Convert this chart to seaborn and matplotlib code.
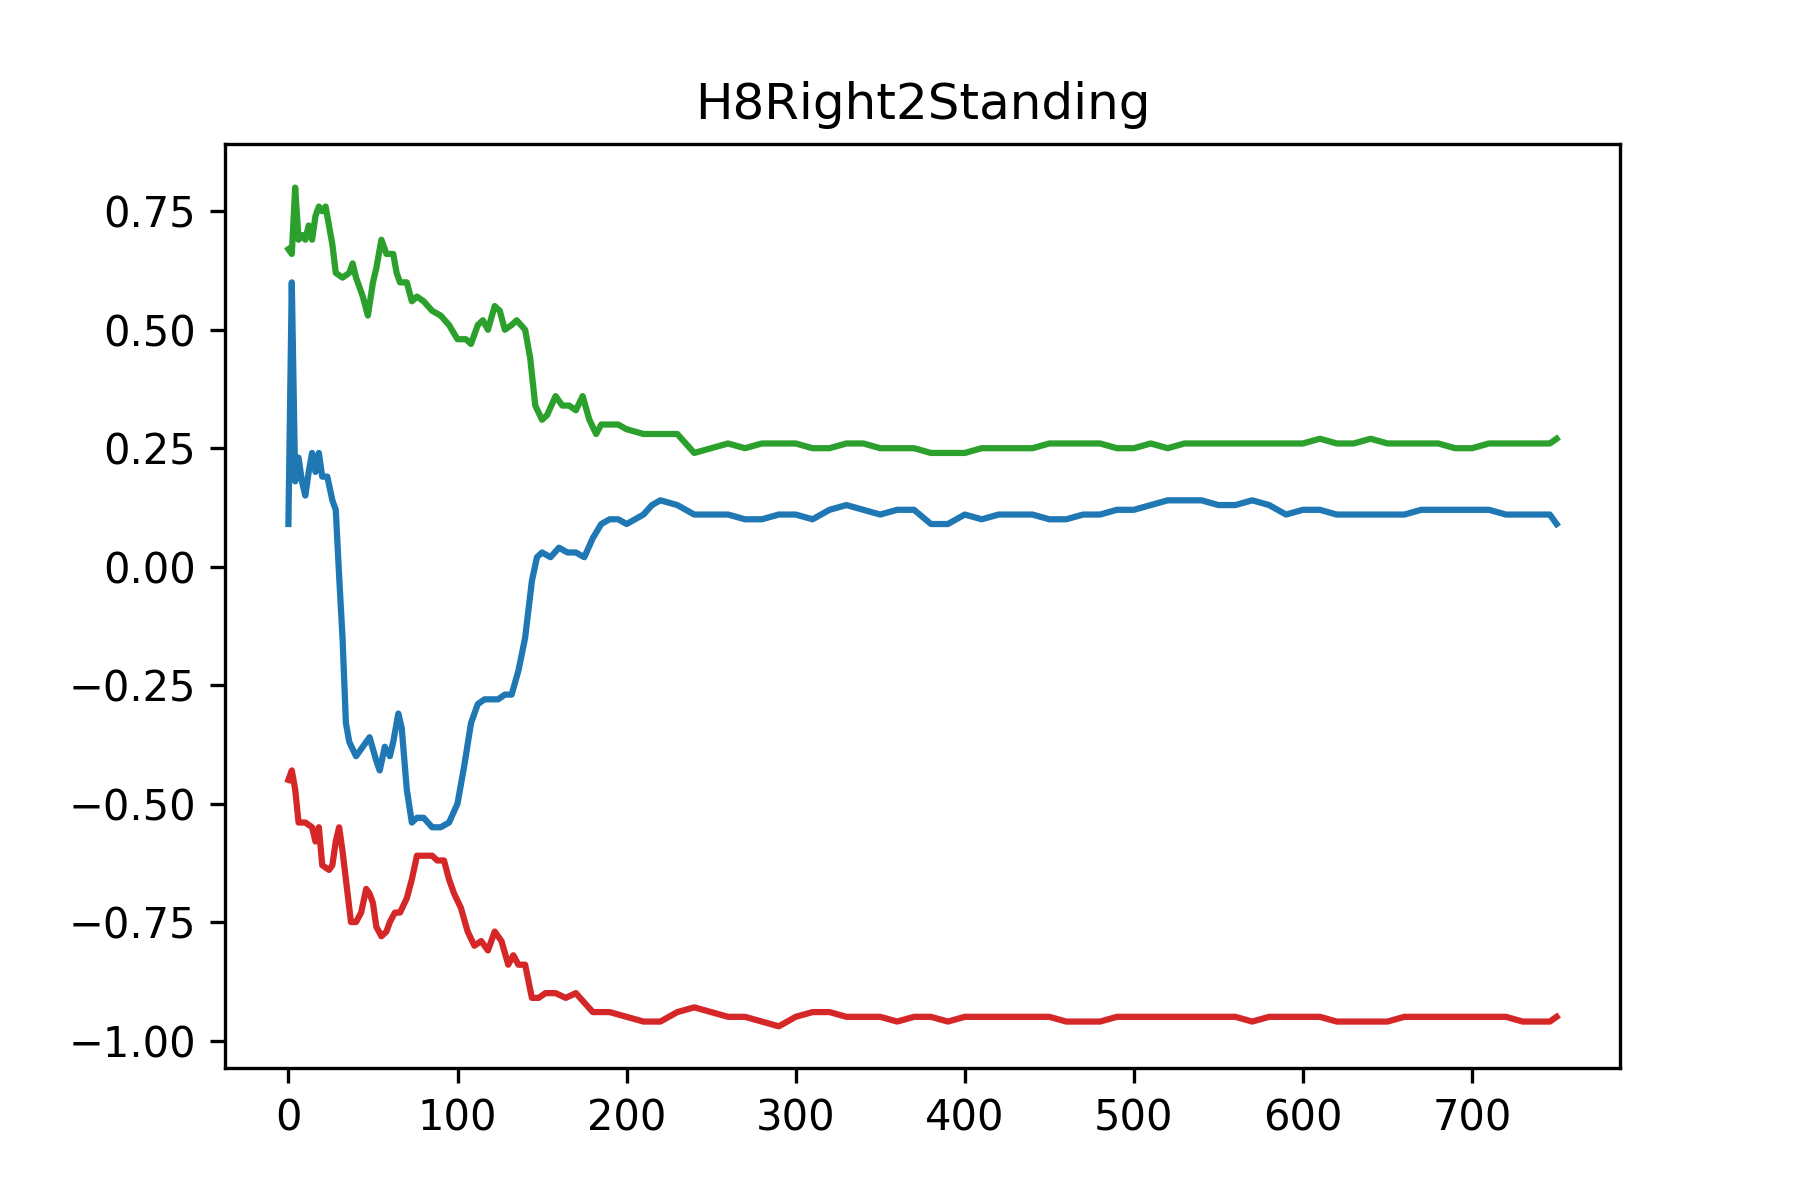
import numpy as np
import pandas as pd
import seaborn as sns
import matplotlib
matplotlib.use("Agg")
import matplotlib.pyplot as plt

# values
blue_x = [0, 2, 4, 6, 8, 10, 12, 14, 16, 18, 20, 23, 26, 28, 30, 32, 34, 36, 40, 44, 48, 52, 54, 57, 60, 62, 65, 67, 70, 73, 76, 80, 85, 90, 95, 100, 104, 108, 112, 116, 120, 124, 128, 132, 136, 140, 144, 147, 150, 155, 160, 165, 170, 175, 180, 185, 190, 195, 200, 210, 215, 220, 230, 240, 250, 260, 270, 280, 290, 300, 310, 320, 330, 340, 350, 360, 370, 380, 390, 400, 410, 420, 430, 440, 450, 460, 470, 480, 490, 500, 510, 520, 530, 540, 550, 560, 570, 580, 590, 600, 610, 620, 630, 640, 650, 660, 670, 680, 690, 700, 710, 720, 730, 740, 746, 750]
blue_y = [0.09, 0.60, 0.18, 0.23, 0.18, 0.15, 0.20, 0.24, 0.20, 0.24, 0.19, 0.19, 0.14, 0.12, -0.02, -0.15, -0.33, -0.37, -0.40, -0.38, -0.36, -0.41, -0.43, -0.38, -0.40, -0.37, -0.31, -0.34, -0.47, -0.54, -0.53, -0.53, -0.55, -0.55, -0.54, -0.50, -0.42, -0.33, -0.29, -0.28, -0.28, -0.28, -0.27, -0.27, -0.22, -0.15, -0.03, 0.02, 0.03, 0.02, 0.04, 0.03, 0.03, 0.02, 0.06, 0.09, 0.10, 0.10, 0.09, 0.11, 0.13, 0.14, 0.13, 0.11, 0.11, 0.11, 0.10, 0.10, 0.11, 0.11, 0.10, 0.12, 0.13, 0.12, 0.11, 0.12, 0.12, 0.09, 0.09, 0.11, 0.10, 0.11, 0.11, 0.11, 0.10, 0.10, 0.11, 0.11, 0.12, 0.12, 0.13, 0.14, 0.14, 0.14, 0.13, 0.13, 0.14, 0.13, 0.11, 0.12, 0.12, 0.11, 0.11, 0.11, 0.11, 0.11, 0.12, 0.12, 0.12, 0.12, 0.12, 0.11, 0.11, 0.11, 0.11, 0.09]

green_x = [0, 2, 4, 6, 8, 10, 12, 14, 16, 18, 20, 22, 24, 26, 28, 32, 36, 38, 40, 44, 47, 50, 52, 55, 58, 62, 64, 66, 70, 73, 76, 80, 85, 90, 95, 100, 105, 108, 112, 115, 118, 122, 125, 128, 132, 135, 140, 143, 146, 150, 153, 158, 162, 166, 170, 174, 178, 182, 185, 190, 195, 200, 210, 220, 230, 240, 250, 260, 270, 280, 290, 300, 310, 320, 330, 340, 350, 360, 370, 380, 390, 400, 410, 420, 430, 440, 450, 460, 470, 480, 490, 500, 510, 520, 530, 540, 550, 560, 570, 580, 590, 600, 610, 620, 630, 640, 650, 660, 670, 680, 690, 700, 710, 720, 730, 740, 746, 750]
green_y = [0.67, 0.66, 0.80, 0.69, 0.70, 0.69, 0.72, 0.69, 0.74, 0.76, 0.75, 0.76, 0.72, 0.68, 0.62, 0.61, 0.62, 0.64, 0.61, 0.57, 0.53, 0.60, 0.63, 0.69, 0.66, 0.66, 0.62, 0.60, 0.60, 0.56, 0.57, 0.56, 0.54, 0.53, 0.51, 0.48, 0.48, 0.47, 0.51, 0.52, 0.50, 0.55, 0.54, 0.50, 0.51, 0.52, 0.50, 0.44, 0.34, 0.31, 0.32, 0.36, 0.34, 0.34, 0.33, 0.36, 0.31, 0.28, 0.30, 0.30, 0.30, 0.29, 0.28, 0.28, 0.28, 0.24, 0.25, 0.26, 0.25, 0.26, 0.26, 0.26, 0.25, 0.25, 0.26, 0.26, 0.25, 0.25, 0.25, 0.24, 0.24, 0.24, 0.25, 0.25, 0.25, 0.25, 0.26, 0.26, 0.26, 0.26, 0.25, 0.25, 0.26, 0.25, 0.26, 0.26, 0.26, 0.26, 0.26, 0.26, 0.26, 0.26, 0.27, 0.26, 0.26, 0.27, 0.26, 0.26, 0.26, 0.26, 0.25, 0.25, 0.26, 0.26, 0.26, 0.26, 0.26, 0.27]

red_x = [0, 2, 4, 6, 10, 14, 16, 18, 20, 24, 26, 28, 30, 32, 35, 37, 40, 43, 46, 48, 50, 52, 55, 58, 60, 63, 66, 70, 73, 76, 80, 85, 88, 92, 95, 98, 102, 106, 110, 114, 118, 122, 126, 130, 133, 136, 140, 144, 148, 152, 158, 164, 170, 175, 180, 190, 200, 210, 220, 230, 240, 250, 260, 270, 280, 290, 300, 310, 320, 330, 340, 350, 360, 370, 380, 390, 400, 410, 420, 430, 440, 450, 460, 470, 480, 490, 500, 510, 520, 530, 540, 550, 560, 570, 580, 590, 600, 610, 620, 630, 640, 650, 660, 670, 680, 690, 700, 710, 720, 730, 740, 746, 750]
red_y = [-0.45, -0.43, -0.47, -0.54, -0.54, -0.55, -0.58, -0.55, -0.63, -0.64, -0.63, -0.58, -0.55, -0.60, -0.69, -0.75, -0.75, -0.73, -0.68, -0.69, -0.71, -0.76, -0.78, -0.77, -0.75, -0.73, -0.73, -0.70, -0.66, -0.61, -0.61, -0.61, -0.62, -0.62, -0.66, -0.69, -0.72, -0.77, -0.80, -0.79, -0.81, -0.77, -0.79, -0.84, -0.82, -0.84, -0.84, -0.91, -0.91, -0.90, -0.90, -0.91, -0.90, -0.92, -0.94, -0.94, -0.95, -0.96, -0.96, -0.94, -0.93, -0.94, -0.95, -0.95, -0.96, -0.97, -0.95, -0.94, -0.94, -0.95, -0.95, -0.95, -0.96, -0.95, -0.95, -0.96, -0.95, -0.95, -0.95, -0.95, -0.95, -0.95, -0.96, -0.96, -0.96, -0.95, -0.95, -0.95, -0.95, -0.95, -0.95, -0.95, -0.95, -0.96, -0.95, -0.95, -0.95, -0.95, -0.96, -0.96, -0.96, -0.96, -0.95, -0.95, -0.95, -0.95, -0.95, -0.95, -0.95, -0.96, -0.96, -0.96, -0.95]

fig, ax = plt.subplots(figsize=(6, 4), dpi=300)
sns.lineplot(x=green_x, y=green_y, color="tab:green", linewidth=1.5, ax=ax)
sns.lineplot(x=blue_x, y=blue_y, color="tab:blue", linewidth=1.5, ax=ax)
sns.lineplot(x=red_x, y=red_y, color="tab:red", linewidth=1.5, ax=ax)
ax.set_title("H8Right2Standing")
ax.set_ylim(-1.058, 0.892)
ax.set_yticks([0.75, 0.5, 0.25, 0.0, -0.25, -0.5, -0.75, -1.0])
plt.savefig("out.png", dpi=300)
